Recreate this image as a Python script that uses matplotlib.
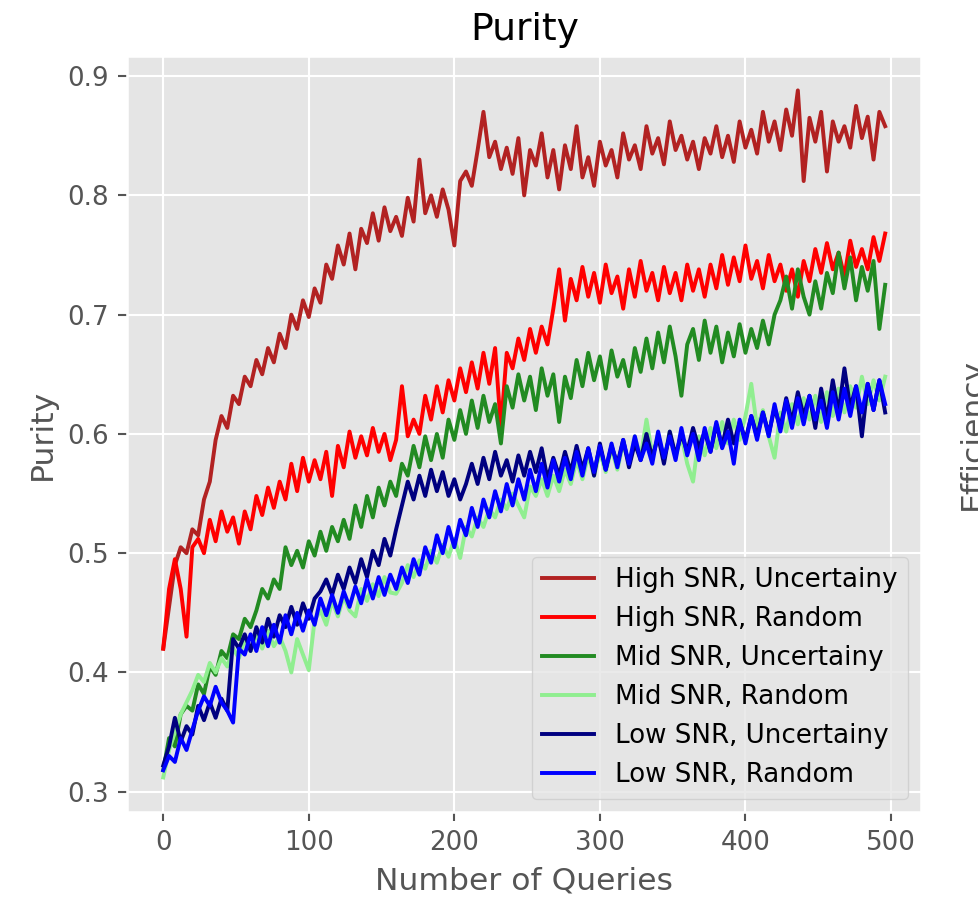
import numpy as np
import matplotlib
matplotlib.use("Agg")
import matplotlib.pyplot as plt

# Query counts at which purity was recorded
queries = np.arange(0, 500, 4)

high_unc = [0.420, 0.455, 0.490, 0.505, 0.500, 0.520, 0.515, 0.545, 0.560, 0.595,
            0.615, 0.605, 0.632, 0.625, 0.648, 0.640, 0.662, 0.650, 0.672, 0.660,
            0.684, 0.672, 0.700, 0.688, 0.712, 0.698, 0.722, 0.710, 0.742, 0.730,
            0.758, 0.742, 0.768, 0.738, 0.772, 0.760, 0.785, 0.762, 0.790, 0.770,
            0.782, 0.766, 0.798, 0.778, 0.830, 0.785, 0.800, 0.782, 0.805, 0.788,
            0.758, 0.812, 0.820, 0.808, 0.838, 0.870, 0.832, 0.845, 0.822, 0.840,
            0.818, 0.848, 0.800, 0.838, 0.825, 0.852, 0.815, 0.838, 0.805, 0.842,
            0.822, 0.858, 0.815, 0.832, 0.808, 0.845, 0.825, 0.838, 0.815, 0.852,
            0.830, 0.842, 0.822, 0.858, 0.835, 0.848, 0.826, 0.862, 0.838, 0.850,
            0.830, 0.845, 0.822, 0.848, 0.835, 0.858, 0.832, 0.850, 0.828, 0.862,
            0.840, 0.855, 0.835, 0.870, 0.845, 0.862, 0.838, 0.872, 0.850, 0.888,
            0.812, 0.865, 0.845, 0.870, 0.820, 0.862, 0.845, 0.858, 0.840, 0.875,
            0.848, 0.866, 0.830, 0.870, 0.858]

high_rand = [0.420, 0.470, 0.495, 0.470, 0.430, 0.505, 0.512, 0.500, 0.528, 0.510,
             0.535, 0.518, 0.530, 0.508, 0.535, 0.520, 0.548, 0.532, 0.555, 0.538,
             0.560, 0.545, 0.575, 0.552, 0.580, 0.560, 0.578, 0.562, 0.585, 0.548,
             0.590, 0.572, 0.602, 0.580, 0.598, 0.582, 0.605, 0.585, 0.600, 0.578,
             0.595, 0.640, 0.598, 0.612, 0.600, 0.632, 0.612, 0.640, 0.618, 0.645,
             0.628, 0.655, 0.635, 0.660, 0.638, 0.668, 0.642, 0.672, 0.605, 0.668,
             0.655, 0.680, 0.662, 0.688, 0.668, 0.690, 0.675, 0.705, 0.738, 0.695,
             0.730, 0.712, 0.740, 0.715, 0.735, 0.710, 0.742, 0.718, 0.732, 0.705,
             0.738, 0.715, 0.745, 0.720, 0.735, 0.712, 0.740, 0.718, 0.735, 0.712,
             0.742, 0.720, 0.738, 0.715, 0.742, 0.722, 0.750, 0.725, 0.748, 0.728,
             0.758, 0.730, 0.745, 0.722, 0.750, 0.728, 0.742, 0.720, 0.738, 0.715,
             0.745, 0.728, 0.755, 0.735, 0.760, 0.738, 0.752, 0.732, 0.762, 0.740,
             0.755, 0.738, 0.765, 0.745, 0.768]

mid_unc = [0.318, 0.345, 0.338, 0.365, 0.372, 0.368, 0.390, 0.382, 0.405, 0.398,
           0.418, 0.412, 0.432, 0.428, 0.445, 0.438, 0.452, 0.470, 0.462, 0.478,
           0.470, 0.505, 0.490, 0.502, 0.488, 0.510, 0.498, 0.518, 0.502, 0.522,
           0.510, 0.528, 0.512, 0.540, 0.522, 0.548, 0.530, 0.555, 0.540, 0.560,
           0.548, 0.575, 0.565, 0.590, 0.572, 0.598, 0.578, 0.600, 0.580, 0.612,
           0.595, 0.620, 0.600, 0.628, 0.605, 0.632, 0.610, 0.625, 0.592, 0.640,
           0.622, 0.650, 0.628, 0.648, 0.620, 0.655, 0.632, 0.650, 0.610, 0.648,
           0.630, 0.662, 0.640, 0.668, 0.645, 0.665, 0.638, 0.670, 0.648, 0.662,
           0.640, 0.672, 0.652, 0.680, 0.655, 0.685, 0.660, 0.690, 0.665, 0.632,
           0.675, 0.688, 0.662, 0.695, 0.668, 0.690, 0.660, 0.685, 0.665, 0.692,
           0.668, 0.688, 0.672, 0.695, 0.675, 0.700, 0.712, 0.732, 0.705, 0.738,
           0.715, 0.700, 0.728, 0.705, 0.735, 0.718, 0.752, 0.722, 0.748, 0.712,
           0.740, 0.720, 0.745, 0.688, 0.725]

mid_rand = [0.312, 0.335, 0.350, 0.365, 0.375, 0.385, 0.398, 0.392, 0.408, 0.400,
            0.412, 0.405, 0.420, 0.412, 0.428, 0.418, 0.432, 0.420, 0.435, 0.422,
            0.430, 0.418, 0.400, 0.428, 0.415, 0.402, 0.444, 0.452, 0.440, 0.460,
            0.447, 0.464, 0.452, 0.447, 0.470, 0.460, 0.474, 0.464, 0.480, 0.467,
            0.466, 0.475, 0.490, 0.480, 0.494, 0.487, 0.502, 0.492, 0.507, 0.497,
            0.512, 0.496, 0.522, 0.514, 0.530, 0.522, 0.537, 0.530, 0.545, 0.537,
            0.550, 0.540, 0.530, 0.556, 0.548, 0.562, 0.548, 0.565, 0.552, 0.570,
            0.558, 0.578, 0.562, 0.582, 0.565, 0.585, 0.568, 0.588, 0.570, 0.592,
            0.575, 0.598, 0.580, 0.612, 0.582, 0.600, 0.578, 0.602, 0.580, 0.598,
            0.575, 0.560, 0.598, 0.582, 0.605, 0.588, 0.610, 0.592, 0.612, 0.595,
            0.615, 0.642, 0.605, 0.620, 0.598, 0.580, 0.618, 0.602, 0.625, 0.608,
            0.630, 0.612, 0.632, 0.610, 0.635, 0.615, 0.638, 0.618, 0.640, 0.622,
            0.648, 0.625, 0.645, 0.628, 0.648]

low_unc = [0.322, 0.338, 0.362, 0.342, 0.355, 0.348, 0.372, 0.360, 0.375, 0.362,
           0.378, 0.368, 0.428, 0.420, 0.432, 0.418, 0.438, 0.425, 0.445, 0.430,
           0.448, 0.438, 0.455, 0.440, 0.458, 0.445, 0.462, 0.468, 0.478, 0.465,
           0.482, 0.470, 0.488, 0.475, 0.495, 0.480, 0.502, 0.490, 0.512, 0.498,
           0.520, 0.540, 0.560, 0.545, 0.565, 0.548, 0.570, 0.552, 0.568, 0.548,
           0.562, 0.545, 0.558, 0.575, 0.558, 0.580, 0.562, 0.585, 0.565, 0.578,
           0.560, 0.582, 0.565, 0.585, 0.568, 0.588, 0.562, 0.580, 0.565, 0.585,
           0.568, 0.590, 0.570, 0.588, 0.565, 0.592, 0.570, 0.590, 0.575, 0.595,
           0.572, 0.592, 0.578, 0.600, 0.580, 0.598, 0.575, 0.602, 0.582, 0.600,
           0.585, 0.605, 0.588, 0.602, 0.585, 0.608, 0.590, 0.612, 0.592, 0.610,
           0.595, 0.615, 0.598, 0.618, 0.600, 0.622, 0.605, 0.630, 0.610, 0.635,
           0.615, 0.632, 0.605, 0.638, 0.612, 0.645, 0.618, 0.655, 0.622, 0.640,
           0.598, 0.642, 0.620, 0.645, 0.618]

low_rand = [0.318, 0.330, 0.325, 0.345, 0.335, 0.352, 0.368, 0.380, 0.372, 0.388,
            0.375, 0.368, 0.358, 0.420, 0.415, 0.432, 0.418, 0.438, 0.422, 0.440,
            0.425, 0.448, 0.432, 0.450, 0.435, 0.452, 0.440, 0.462, 0.448, 0.465,
            0.450, 0.468, 0.455, 0.472, 0.458, 0.478, 0.462, 0.480, 0.465, 0.482,
            0.470, 0.488, 0.475, 0.495, 0.482, 0.505, 0.492, 0.515, 0.500, 0.522,
            0.505, 0.528, 0.515, 0.538, 0.522, 0.545, 0.530, 0.552, 0.535, 0.558,
            0.540, 0.562, 0.545, 0.570, 0.552, 0.575, 0.555, 0.578, 0.560, 0.580,
            0.562, 0.585, 0.565, 0.588, 0.568, 0.590, 0.570, 0.592, 0.572, 0.595,
            0.575, 0.598, 0.578, 0.592, 0.575, 0.602, 0.580, 0.598, 0.578, 0.605,
            0.582, 0.600, 0.578, 0.605, 0.585, 0.610, 0.588, 0.602, 0.575, 0.612,
            0.592, 0.615, 0.595, 0.618, 0.598, 0.625, 0.602, 0.628, 0.605, 0.630,
            0.608, 0.632, 0.612, 0.628, 0.605, 0.635, 0.612, 0.638, 0.615, 0.640,
            0.618, 0.642, 0.620, 0.645, 0.625]

series = [
    ("High SNR, Uncertainy", high_unc, "firebrick"),
    ("High SNR, Random", high_rand, "red"),
    ("Mid SNR, Uncertainy", mid_unc, "forestgreen"),
    ("Mid SNR, Random", mid_rand, "lightgreen"),
    ("Low SNR, Uncertainy", low_unc, "navy"),
    ("Low SNR, Random", low_rand, "blue"),
]

plt.style.use("ggplot")
DPI = 188
fig = plt.figure(figsize=(978 / DPI, 904 / DPI), dpi=DPI)
ax = fig.add_axes([0.130, 0.102, 0.812, 0.836])

for label, values, color in series:
    ax.plot(queries, values, color=color, label=label)

ax.set_title("Purity")
ax.set_xlabel("Number of Queries")
ax.set_ylabel("Purity")
ax.legend(loc="lower right")

# Label of the neighbouring panel, running off the right edge
fig.text(0.9795, 0.52, "Efficiency", rotation=90, ha="left", va="center",
         fontsize="large", color="#555555")

fig.savefig("out.png", dpi=DPI)
